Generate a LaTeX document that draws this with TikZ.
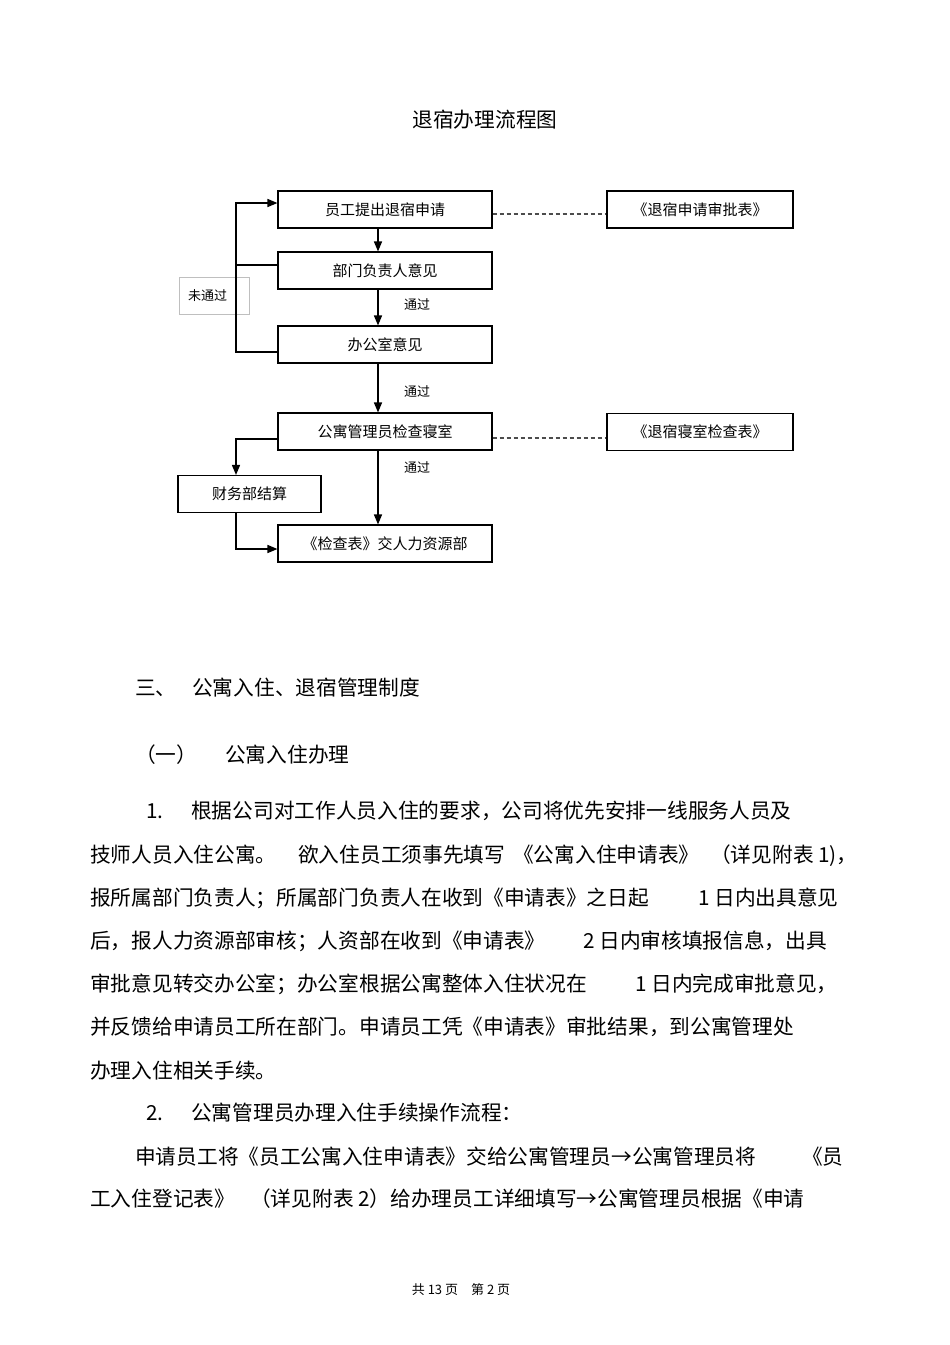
\documentclass[tikz,border=0pt]{standalone}
\usepackage{fontspec}
\setmainfont{Noto Sans CJK SC}
\usetikzlibrary{arrows.meta}
\newcommand\bodyfont{\fontsize{20.7}{25}\selectfont}
\newcommand\flowfont{\fontsize{15}{18}\selectfont}
\newcommand\smallfont{\fontsize{13}{16}\selectfont}
\tikzstyle{procbox}=[draw,line width=1.1pt,minimum width=214pt,minimum height=37pt,inner sep=0pt,font=\flowfont]
\tikzstyle{docbox}=[procbox,minimum width=186pt]
\tikzstyle{failbox}=[draw=black!25,line width=0.8pt,minimum width=70pt,minimum height=37pt,inner sep=0pt,font=\smallfont]
\tikzstyle{passtext}=[inner sep=0pt,font=\smallfont]
\tikzstyle{flowline}=[line width=1.5pt]
\tikzstyle{flowarrow}=[flowline,->]
\tikzstyle{formlink}=[line width=1.1pt,black!70,dash pattern=on 4pt off 3pt]
\tikzstyle{bodytext}=[anchor=west,inner sep=0pt,font=\bodyfont,text height=18.2pt,text depth=2.5pt]
\tikzset{>={Triangle[length=10pt,width=8pt]}}

\begin{document}
\begin{tikzpicture}[x=1pt,y=-1pt]
  \fill[white] (0,0) rectangle (950,1345);
  \useasboundingbox (0,0) rectangle (950,1345);

  % TITLE
  \node[font=\bodyfont,inner sep=0pt] (title) at (485,120) {退宿办理流程图};

  % FLOW BOXES
  \node[failbox] (fail) at (214,295.5) {\hspace*{-13pt}未通过};
  \node[procbox] (apply)  at (385,209.5) {员工提出退宿申请};
  \node[procbox] (dept)   at (385,270.5) {部门负责人意见};
  \node[procbox] (office) at (385,344.5) {办公室意见};
  \node[procbox] (check)  at (385,431.5) {公寓管理员检查寝室};
  \node[procbox] (hr)     at (385,543.5) {《检查表》交人力资源部};
  \node[procbox,minimum width=143pt] (finance) at (249.5,494) {财务部结算};
  \node[docbox] (applyform) at (700,209.5) {《退宿申请审批表》};
  \node[docbox,line width=1.8pt] (checkform) at (700,432) {《退宿寝室检查表》};

  \coordinate (spine) at (378,0);
  \coordinate (back) at (236,0);

  % MAIN LINE
  \draw[flowarrow] (apply.south -| spine) -- (dept.north -| spine);
  \draw[flowarrow] (dept.south -| spine) -- (office.north -| spine);
  \draw[flowarrow] (office.south -| spine) -- (check.north -| spine);
  \draw[flowarrow] (check.south -| spine) -- (hr.north -| spine);
  \node[passtext] (pass1) at (417,305) {通过};
  \node[passtext] (pass2) at (417,392) {通过};
  \node[passtext] (pass3) at (417,468) {通过};

  % FEEDBACK
  \coordinate (applyin) at ([yshift=6.5pt]apply.west);
  \coordinate (deptout) at ([yshift=5.5pt]dept.west);
  \coordinate (officeout) at ([yshift=-7.5pt]office.west);
  \draw[flowarrow] (officeout) -| (back |- applyin) -- (applyin);
  \draw[flowline] (deptout) -- (back |- deptout);

  % FINANCE
  \coordinate (checkout) at ([yshift=-7.5pt]check.west);
  \coordinate (hrin) at ([yshift=-5.5pt]hr.west);
  \draw[flowarrow] (checkout) -| (back |- finance.north);
  \draw[flowarrow] (back |- finance.south) |- (hrin);

  % FORMS
  \coordinate (applylink) at ([yshift=-4.5pt]apply.east);
  \coordinate (checklink) at ([yshift=-6.5pt]check.east);
  \draw[formlink] (applylink) -- (applyform.west |- applylink);
  \draw[formlink] (checklink) -- (checkform.west |- checklink);

  % TEXT
  \node[bodytext] (secnum) at (135,688) {三、};
  \node[bodytext] (sec) at (192,688) {公寓入住、退宿管理制度};
  \node[bodytext] (subnum) at (135,755) {（一）};
  \node[bodytext] (sub) at (225,755) {公寓入住办理};

  \node[bodytext] (itemone) at (146,811) {1.};
  \node[bodytext] (lineA) at (191,811) {根据公司对工作人员入住的要求，公司将优先安排一线服务人员及};
  \node[bodytext] (lineBa) at (90,855) {技师人员入住公寓。};
  \node[bodytext] (lineBb) at (298,855) {欲入住员工须事先填写};
  \node[bodytext] (lineBc) at (513,855) {《公寓入住申请表》};
  \node[bodytext] (lineBd) at (710,855) {（详见附表 1)，};
  \node[bodytext] (lineCa) at (90,898) {报所属部门负责人；所属部门负责人在收到《申请表》之日起};
  \node[bodytext] (lineCb) at (698,898) {1 日内出具意见};
  \node[bodytext] (lineDa) at (90,941) {后，报人力资源部审核；人资部在收到《申请表》};
  \node[bodytext] (lineDb) at (583,941) {2 日内审核填报信息，出具};
  \node[bodytext] (lineEa) at (90,984) {审批意见转交办公室；办公室根据公寓整体入住状况在};
  \node[bodytext] (lineEb) at (635,984) {1 日内完成审批意见，};
  \node[bodytext] (lineF) at (90,1027) {并反馈给申请员工所在部门。申请员工凭《申请表》审批结果，到公寓管理处};
  \node[bodytext] (lineG) at (90,1071) {办理入住相关手续。};

  \node[bodytext] (itemtwo) at (146,1113) {2.};
  \node[bodytext] (lineH) at (191,1113) {公寓管理员办理入住手续操作流程：};
  \node[bodytext] (lineIa) at (135,1157) {申请员工将《员工公寓入住申请表》交给公寓管理员→公寓管理员将};
  \node[bodytext] (lineIb) at (802,1157) {《员};
  \node[bodytext] (lineJa) at (90,1199) {工入住登记表》};
  \node[bodytext] (lineJb) at (250,1199) {（详见附表 2）给办理员工详细填写→公寓管理员根据《申请};

  % FOOTER
  \node[passtext] (footer) at (461,1290) {共 13 页\quad 第 2 页};
\end{tikzpicture}
\end{document}
